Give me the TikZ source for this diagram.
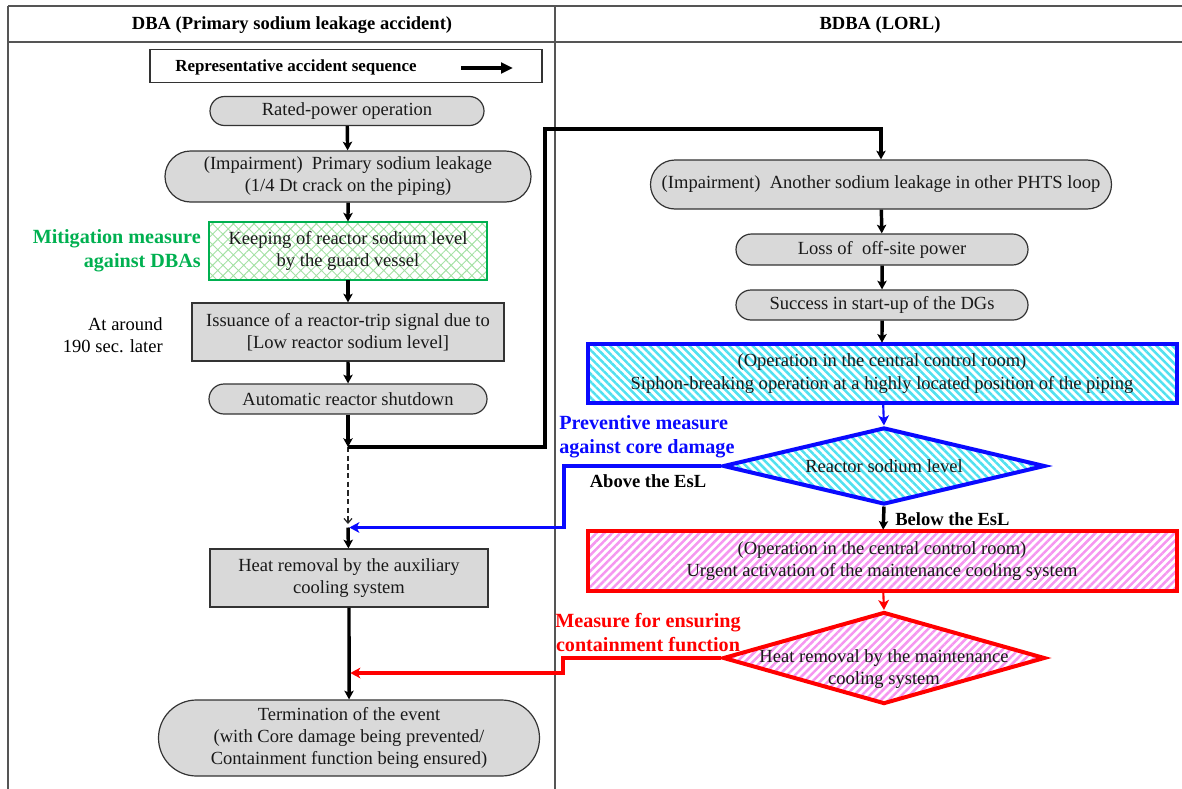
\documentclass[tikz,border=0pt]{standalone}
\usepackage{fontspec}
\setmainfont{Liberation Serif}
\usetikzlibrary{shapes.misc,shapes.geometric,patterns.meta,arrows.meta}
\definecolor{framegray}{RGB}{85,85,85}
\definecolor{boxfill}{RGB}{217,217,217}
\definecolor{mitgreen}{RGB}{0,176,80}
\definecolor{hatchgreen}{RGB}{165,225,165}
\definecolor{prevblue}{RGB}{10,10,255}
\definecolor{stripecyan}{RGB}{80,225,240}
\definecolor{ensred}{RGB}{255,0,0}
\definecolor{stripepink}{RGB}{245,150,240}
\begin{document}
\begin{tikzpicture}[x=0.75pt,y=-0.75pt,
  sz/.style 2 args={minimum width=#1*0.75pt, minimum height=#2*0.75pt},
  base/.style={font=\fontsize{13.9}{16.6}\selectfont, align=center, inner sep=0pt, text=black!90},
  greybox/.style={base, draw=black!80, line width=0.9pt, fill=boxfill},
  pill/.style={greybox, rounded rectangle},
  greenbox/.style={base, draw=mitgreen, line width=2pt,
    pattern={Hatch[angle=45,distance=5.5pt,line width=0.7pt]}, pattern color=hatchgreen},
  bluebox/.style={base, draw=prevblue, line width=3pt,
    pattern={Lines[angle=-45,distance=4.2pt,line width=1.9pt]}, pattern color=stripecyan},
  redbox/.style={base, draw=ensred, line width=3pt,
    pattern={Lines[angle=45,distance=4.2pt,line width=1.9pt]}, pattern color=stripepink},
  flow/.style={line width=2.6pt, -{Stealth[length=6.5pt,width=7pt,inset=1.5pt]}},
  blueflow/.style={prevblue, line width=2.4pt, -{Stealth[length=7.5pt,width=8pt,inset=2pt]}},
  redflow/.style={ensred, line width=2.4pt, -{Stealth[length=7.5pt,width=8pt,inset=2pt]}},
  head/.style={font=\bfseries\fontsize{13.9}{16}\selectfont, inner sep=0pt},
  tag/.style={font=\bfseries\fontsize{15.1}{18}\selectfont, inner sep=0pt},
  note/.style={font=\fontsize{13.9}{16.6}\selectfont, inner sep=0pt, align=right},
  rule/.style={framegray, line width=1.4pt}
]
\useasboundingbox (0,0) rectangle (1182,789);

% table frame
\draw[rule] (8,6) -- (1182,6);
\draw[rule] (8,42) -- (1182,42);
\draw[rule, line width=1pt] (8,6) -- (8,789);
\draw[rule, line width=1pt] (555,6) -- (555,789);
\node[head] (hdba) at (292,25) {DBA (Primary sodium leakage accident)};
\node[head] (hbdba) at (880,25) {BDBA (LORL)};

% legend
\node[draw=black!80, line width=0.9pt, sz={392}{33}] (legend) at (346,66) {};
\node[font=\bfseries\fontsize{12.7}{15}\selectfont, inner sep=0pt] (legtext) at (296,67) {Representative accident sequence};
\coordinate (legA) at (461,68);
\coordinate (legB) at (513,68);
\draw[line width=3pt, -{Stealth[length=9pt,width=8pt,inset=0pt]}] (legA) -- (legB);

% DBA sequence
\node[pill, sz={274}{29}] (rated) at (347,111) {Rated-power operation};
\node[pill, sz={366}{51}] (imp1) at (348,176.5) {(Impairment)~ Primary sodium leakage\\(1/4 Dt crack on the piping)};
\node[greenbox, sz={278}{58}] (keep) at (348,251) {Keeping of reactor sodium level\\by the guard vessel};
\node[greybox, sz={312}{58}] (trip) at (348,332) {Issuance of a reactor-trip signal due to\\{}[Low reactor sodium level]};
\node[pill, sz={278}{30}] (shut) at (348,399) {Automatic reactor shutdown};
\node[greybox, sz={278}{58}] (aux) at (349,578) {Heat removal by the auxiliary\\cooling system};
\node[pill, sz={381}{76}] (term) at (349,738) {Termination of the event\\(with Core damage being prevented/\\Containment function being ensured)};

\node[tag, text=mitgreen, align=right, anchor=east] (mitlbl) at (201,251) {Mitigation measure\\against DBAs};
\node[note, anchor=east] (timelbl) at (163,335) {At around\\190 sec. later};

% BDBA sequence
\node[pill, sz={461}{49}] (imp2) at (881,184.5) {(Impairment)~ Another sodium leakage in other PHTS loop};
\node[pill, sz={292}{31}] (lop) at (882,249.5) {Loss of~~off-site power};
\node[pill, sz={292}{30}] (dg) at (882,305) {Success in start-up of the DGs};
\node[bluebox, sz={589}{59}] (siphon) at (882,373.5) {(Operation in the central control room)\\Siphon-breaking operation at a highly located position of the piping};
\node[diamond, draw=prevblue, line width=3pt, sz={322}{77}, aspect=4,
  pattern={Lines[angle=-45,distance=4.2pt,line width=1.9pt]}, pattern color=stripecyan] (dia1) at (884,466) {};
\node[base] (dia1text) at (884,466) {Reactor sodium level};
\node[redbox, sz={589}{60}] (urgent) at (882,561) {(Operation in the central control room)\\Urgent activation of the maintenance cooling system};
\node[diamond, draw=ensred, line width=3pt, sz={322}{92}, aspect=4,
  pattern={Lines[angle=45,distance=4.2pt,line width=1.9pt]}, pattern color=stripepink] (dia2) at (884,658) {};
\node[base] (dia2text) at (884,669) {Heat removal by the maintenance\\cooling system};

\node[tag, text=prevblue, align=left, anchor=west] (prevlbl) at (559,437) {Preventive measure\\against core damage};
\node[tag, text=ensred, align=center] (enslbl) at (648,633) {Measure for ensuring\\containment function};
\node[head] (abovelbl) at (648,481) {Above the EsL};
\node[head, anchor=west] (belowlbl) at (895,519) {Below the EsL};

% connector waypoints
\coordinate (jn) at (348,447);
\coordinate (topbend) at (545,129);
\coordinate (dashend) at (348,524);
\coordinate (mj) at (348,527.5);
\coordinate (bluebend) at (564,527.5);
\coordinate (redbend) at (563,673);
\coordinate (rj) at (349,673);

% DBA flow
\draw[flow] (rated) -- (imp1);
\draw[flow] (imp1) -- (keep);
\draw[flow] (keep) -- (trip);
\draw[flow] (trip) -- (shut);
\draw[flow] (shut) -- (jn);
\draw[black!85, line width=0.9pt, dashed, dash pattern=on 4pt off 2.5pt, -{Straight Barb[length=3.5pt,width=6pt]}] (jn) -- (dashend);
\draw[flow] (mj) -- (aux);
\draw[flow] (aux) -- (term);

% branch into the BDBA column
\draw[flow] (jn) -| (topbend) -| (imp2.north);
\draw[flow] (imp2) -- (lop);
\draw[flow] (lop) -- (dg);
\draw[flow] (dg) -- (siphon);
\draw[blueflow, line width=1.6pt] (siphon) -- (dia1.north);
\draw[flow] (dia1.south) -- (urgent);
\draw[redflow, line width=1.6pt] (urgent) -- (dia2.north);

% return paths
\draw[blueflow, shorten >=1pt] (dia1.west) -| (bluebend) -- (mj);
\draw[redflow, shorten >=1pt] (dia2.west) -| (redbend) -- (rj);
\end{tikzpicture}
\end{document}
